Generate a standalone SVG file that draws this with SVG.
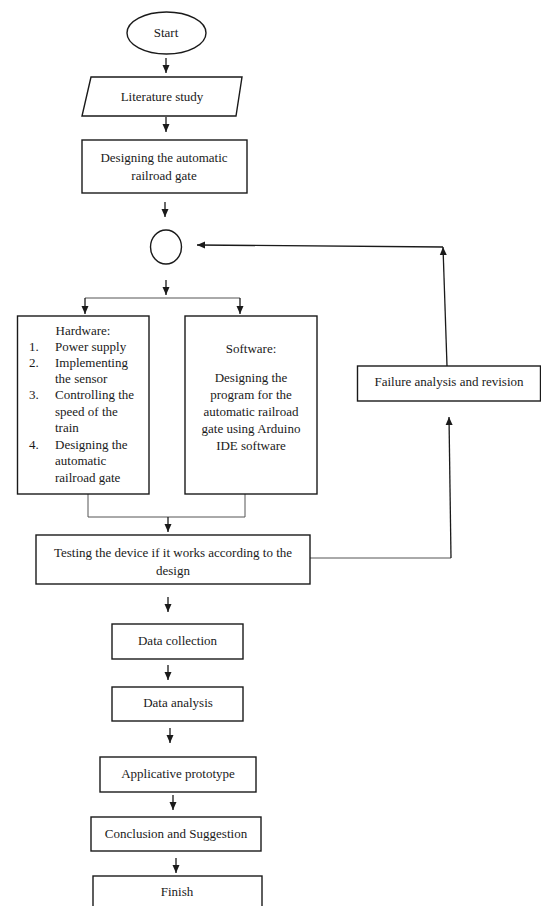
<svg xmlns="http://www.w3.org/2000/svg" width="541" height="906" viewBox="0 0 541 906">
<defs>
<style>
.s{fill:#fff;stroke:#1a1a1a;stroke-width:1.4}
.t{font-family:"Liberation Serif","Times New Roman",serif;font-size:13px;fill:#1a1a1a}
.c{text-anchor:middle}
.l{fill:none;stroke:#1a1a1a;stroke-width:1.3}
.g{fill:none;stroke:#555;stroke-width:1}
</style>
<marker id="ah" markerWidth="8" markerHeight="8" refX="8" refY="4" orient="auto" markerUnits="userSpaceOnUse"><path d="M0,0.5 L8,4 L0,7.5 z" fill="#1a1a1a"/></marker>
</defs>
<rect width="541" height="906" fill="#fff"/>
<g id="connectors">
<line class="l" x1="166" y1="58" x2="166" y2="73" marker-end="url(#ah)"/>
<line class="l" x1="166" y1="117" x2="166" y2="132" marker-end="url(#ah)"/>
<line class="l" x1="165" y1="202" x2="165" y2="217" marker-end="url(#ah)"/>
<line class="l" x1="166" y1="280" x2="166" y2="295" marker-end="url(#ah)"/>
<line class="g" x1="85" y1="298" x2="240" y2="298"/>
<line class="l" x1="85" y1="298" x2="85" y2="314" marker-end="url(#ah)"/>
<line class="l" x1="240" y1="298" x2="240" y2="314" marker-end="url(#ah)"/>
<polyline class="g" points="88,494 88,517 245,517 245,494"/>
<line class="l" x1="168" y1="517" x2="168" y2="532" marker-end="url(#ah)"/>
<line class="l" x1="168" y1="597" x2="168" y2="612" marker-end="url(#ah)"/>
<line class="l" x1="168" y1="665" x2="168" y2="680" marker-end="url(#ah)"/>
<line class="l" x1="170" y1="728" x2="170" y2="743" marker-end="url(#ah)"/>
<line class="l" x1="173" y1="795" x2="173" y2="810" marker-end="url(#ah)"/>
<line class="l" x1="176" y1="858" x2="176" y2="873" marker-end="url(#ah)"/>
<polyline class="g" points="310,558 451,558"/>
<line class="l" x1="451" y1="558" x2="449" y2="417" marker-end="url(#ah)"/>
<line class="l" x1="447" y1="366" x2="443" y2="247" marker-end="url(#ah)"/>
<line class="l" x1="443" y1="247" x2="197" y2="245" marker-end="url(#ah)"/>
</g>
<g id="start">
<ellipse class="s" cx="166.5" cy="33" rx="39.5" ry="21"/>
<text class="t c" x="166" y="37">Start</text>
</g>
<g id="literature">
<polygon class="s" points="91,77 242,77 236,116 82,116"/>
<text class="t c" x="162" y="101">Literature study</text>
</g>
<g id="design-gate">
<rect class="s" x="82" y="140" width="165" height="53"/>
<text class="t c" x="164" y="162">Designing the automatic</text>
<text class="t c" x="164" y="180">railroad gate</text>
</g>
<g id="connector-circle">
<ellipse class="s" cx="166" cy="247" rx="15.5" ry="17"/>
</g>
<g id="hardware">
<rect class="s" x="17.5" y="316" width="131.5" height="178"/>
<text class="t c" x="83" y="335">Hardware:</text>
<text class="t" x="29" y="351">1.</text><text class="t" x="55" y="351">Power supply</text>
<text class="t" x="29" y="367">2.</text><text class="t" x="55" y="367">Implementing</text>
<text class="t" x="55" y="383">the sensor</text>
<text class="t" x="29" y="399">3.</text><text class="t" x="55" y="399">Controlling the</text>
<text class="t" x="55" y="416">speed of the</text>
<text class="t" x="55" y="432">train</text>
<text class="t" x="29" y="449">4.</text><text class="t" x="55" y="449">Designing the</text>
<text class="t" x="55" y="465">automatic</text>
<text class="t" x="55" y="482">railroad gate</text>
</g>
<g id="software">
<rect class="s" x="185" y="316" width="132" height="178"/>
<text class="t c" x="251" y="353">Software:</text>
<text class="t c" x="251" y="382">Designing the</text>
<text class="t c" x="251" y="399">program for the</text>
<text class="t c" x="251" y="416">automatic railroad</text>
<text class="t c" x="251" y="433">gate using Arduino</text>
<text class="t c" x="251" y="450">IDE software</text>
</g>
<g id="testing">
<rect class="s" x="36" y="535" width="274" height="49"/>
<text class="t c" x="173" y="557">Testing the device if it works according to the</text>
<text class="t c" x="173" y="575">design</text>
</g>
<g id="failure">
<rect class="s" x="357.5" y="366" width="183" height="35"/>
<text class="t c" x="449" y="386">Failure analysis and revision</text>
</g>
<g id="data-collection">
<rect class="s" x="112" y="624" width="131" height="35"/>
<text class="t c" x="177.5" y="645">Data collection</text>
</g>
<g id="data-analysis">
<rect class="s" x="112" y="687" width="131" height="34"/>
<text class="t c" x="178" y="707">Data analysis</text>
</g>
<g id="prototype">
<rect class="s" x="100" y="757" width="156" height="35"/>
<text class="t c" x="178" y="778">Applicative prototype</text>
</g>
<g id="conclusion">
<rect class="s" x="91" y="817" width="170" height="34"/>
<text class="t c" x="176" y="838">Conclusion and Suggestion</text>
</g>
<g id="finish">
<rect class="s" x="93" y="876" width="169" height="34"/>
<text class="t c" x="177" y="896">Finish</text>
</g>
</svg>
